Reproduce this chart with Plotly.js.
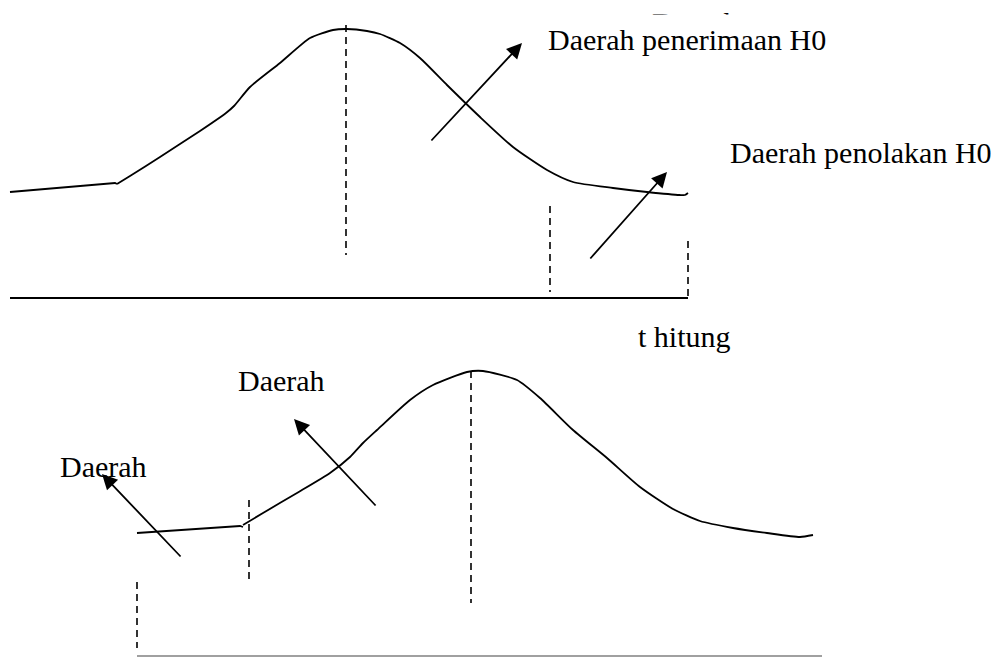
<!DOCTYPE html>
<html>
<head>
<meta charset="utf-8">
<script src="https://cdn.plot.ly/plotly-3.0.1.min.js"></script>
<style>html,body{margin:0;padding:0;background:#fff;}#chart{width:1001px;height:657px;}</style>
</head>
<body>
<div id="chart"></div>
<script>
// ---- data (diagram coordinates) ----
var topLeftX = [10, 115, 117];
var topLeftY = [192, 183, 184];
var topCurveX = [117,130,160,200,226,234,250,280,310,333,347,367,380,400,420,447,480,513,547,573,613,647,680,685,688];
var topCurveY = [184,176,157,131,113,106,87,63,38,30,29,31,34,43,58,85,117,147,170,182,188,192,195,195,193];

var botLeftX = [137, 240, 243];
var botLeftY = [533, 526, 527];
var botCurveX = [243,263,297,330,350,363,377,410,433,467,483,517,540,573,607,640,673,700,733,767,800,813];
var botCurveY = [525,513,493,473,457,443,430,400,385,372,371,380,398,430,458,487,509,521,528,533,537,535];

var dashX  = [346, 550, 688, 471, 249, 137];
var dashY0 = [25, 206, 241, 371, 500, 582];
var dashY1 = [255, 292, 298, 603, 584, 648];

var axisTopX = [10, 688];
var axisTopY = [298, 298];
var axisBotX = [137, 822];
var axisBotY = [656, 656];

var arrowTailX = [430, 589, 182, 377];
var arrowTailY = [142, 260, 558, 507];
var arrowHeadX = [522, 667, 102, 294];
var arrowHeadY = [43, 172, 474, 419];

var labelText = ['Daerah', 'Daerah penerimaan H0', 'Daerah penolakan H0', 't hitung', 'Daerah', 'Daerah'];
var labelX = [650, 548, 728, 636, 236, 58];
var labelY = [22, 39, 152, 336, 380, 466];

// ---- build ----
var traces = [];
function line(x, y, opts) {
  traces.push(Object.assign({x: x, y: y, mode: 'lines', hoverinfo: 'skip', showlegend: false}, opts));
}
line(topLeftX, topLeftY, {line: {color: '#000', width: 1.8}});
line(topCurveX, topCurveY, {line: {color: '#000', width: 1.8, shape: 'spline', smoothing: 0.6}});
line(botLeftX, botLeftY, {line: {color: '#000', width: 1.8}});
line(botCurveX, botCurveY, {line: {color: '#000', width: 1.8, shape: 'spline', smoothing: 0.6}});
for (var i = 0; i < dashX.length; i++) {
  line([dashX[i], dashX[i]], [dashY0[i], dashY1[i]], {line: {color: '#000', width: 1.6, dash: '7px,5px'}});
}
line(axisTopX, axisTopY, {line: {color: '#000', width: 2.2}});
line(axisBotX, axisBotY, {line: {color: '#808080', width: 1.5}});

var annotations = [];
for (var j = 0; j < arrowTailX.length; j++) {
  annotations.push({
    x: arrowHeadX[j], y: arrowHeadY[j], xref: 'x', yref: 'y',
    ax: arrowTailX[j], ay: arrowTailY[j], axref: 'x', ayref: 'y',
    text: '', showarrow: true, arrowhead: 2, arrowsize: 1.7, arrowwidth: 1.8, arrowcolor: '#000'
  });
}
for (var k = 0; k < labelText.length; k++) {
  var a = {
    x: labelX[k], y: labelY[k], xref: 'x', yref: 'y',
    text: labelText[k], showarrow: false, xanchor: 'left', yanchor: 'middle',
    font: {family: 'Liberation Serif, Times New Roman, serif', size: 30, color: '#000'}
  };
  if (k === 1) { a.bgcolor = '#ffffff'; a.borderpad = 8; a.xshift = -9; }
  annotations.push(a);
}

var layout = {
  width: 1001, height: 657,
  margin: {l: 0, r: 0, t: 0, b: 0},
  paper_bgcolor: '#fff', plot_bgcolor: '#fff',
  xaxis: {range: [0, 1001], visible: false, fixedrange: true},
  yaxis: {range: [657, 0], visible: false, fixedrange: true},
  showlegend: false,
  annotations: annotations
};
Plotly.newPlot('chart', traces, layout, {staticPlot: true, displayModeBar: false});
</script>
</body>
</html>
